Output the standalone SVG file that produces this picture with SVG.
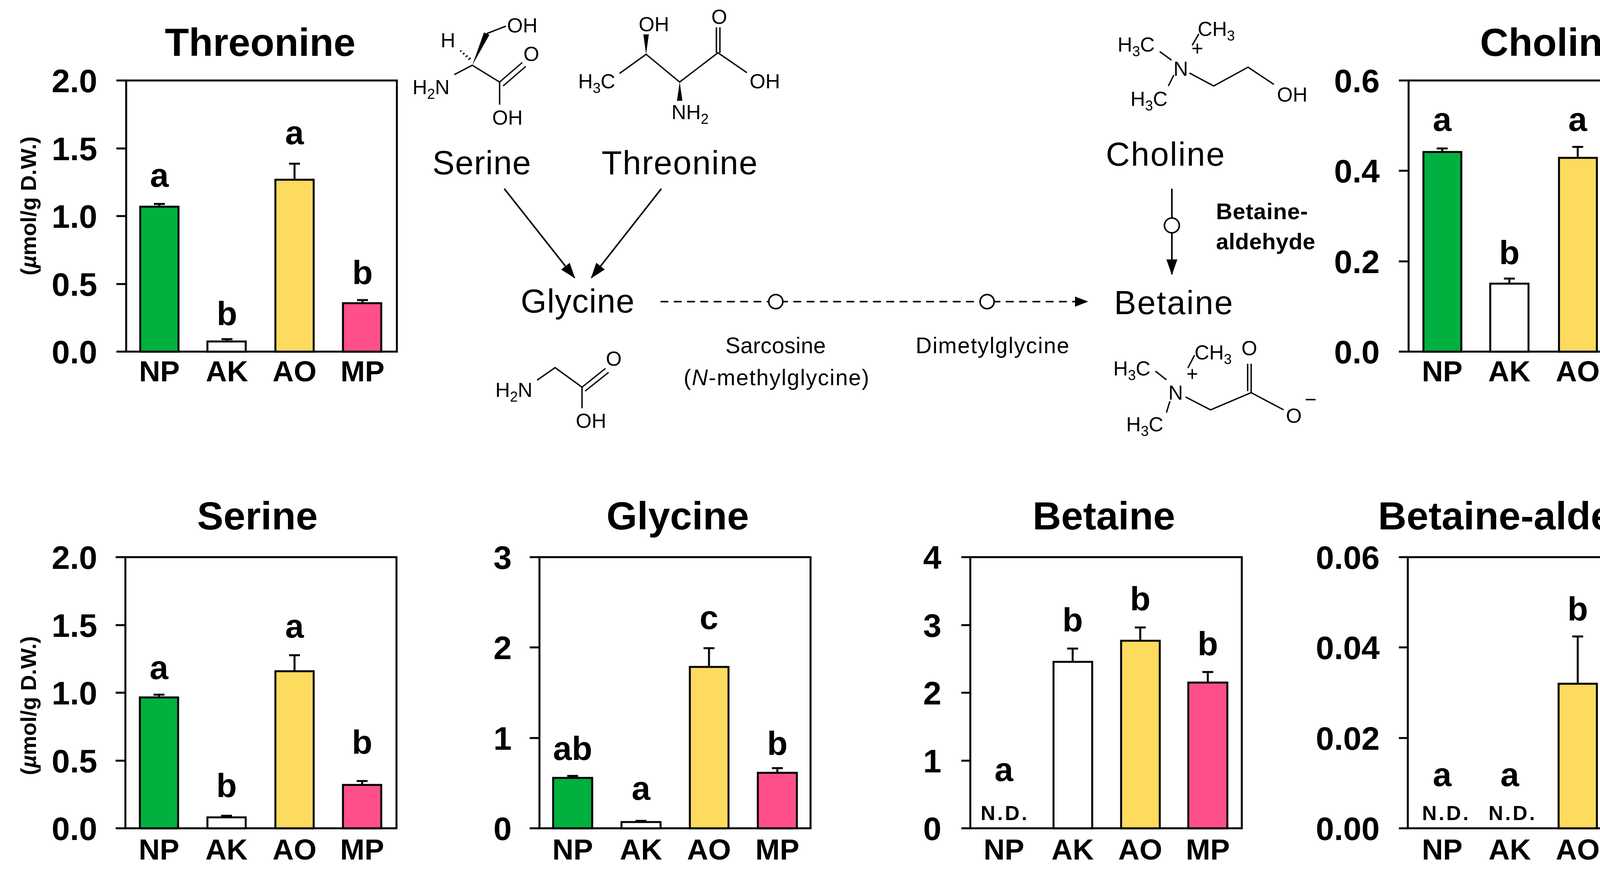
<svg xmlns="http://www.w3.org/2000/svg" width="4404" height="2237" viewBox="0 0 4404 2237">
<style>
.fr{fill:none;stroke:#000;stroke-width:5}
.tk{stroke:#000;stroke-width:5}
.bar{stroke:#000;stroke-width:5}
.g{fill:#00B140}.w{fill:#fff}.y{fill:#FDDB5F}.p{fill:#FF4F8B}
.eb{stroke:#000;stroke-width:5;fill:none}
.tl{font-family:"Liberation Sans",Arial,sans-serif;font-weight:bold;font-size:84px;text-anchor:end}
.ti{font-family:"Liberation Sans",Arial,sans-serif;font-weight:bold;font-size:101px;text-anchor:middle}
.cat{font-family:"Liberation Sans",Arial,sans-serif;font-weight:bold;font-size:75px;text-anchor:middle}
.let{font-family:"Liberation Sans",Arial,sans-serif;font-weight:bold;font-size:86px;text-anchor:middle}
.nd{font-family:"Liberation Sans",Arial,sans-serif;font-weight:bold;font-size:52px;text-anchor:middle}
.yl{font-family:"Liberation Sans",Arial,sans-serif;font-weight:bold;font-size:56px;text-anchor:middle}
.nm{font-family:"Liberation Sans",Arial,sans-serif;font-size:85px}
.sm{font-family:"Liberation Sans",Arial,sans-serif;font-size:57px}
.mo{font-family:"Liberation Sans",Arial,sans-serif;font-size:52px}
.sb{font-size:36px}
.bd{stroke:#000;stroke-width:3.5;fill:none}
.ln{stroke:#000;stroke-width:4;fill:none}
</style>
<defs>
<marker id="ah" markerUnits="userSpaceOnUse" markerWidth="40" markerHeight="28" refX="38" refY="14" orient="auto"><path d="M0,0 L40,14 L0,28 z" fill="#000"/></marker>
</defs>

<!-- Threonine chart -->
<g id="chart-threonine">
<text class="ti" x="666" y="143">Threonine</text>
<text class="yl" transform="translate(92,527) rotate(-90)">(<tspan font-style="italic">µ</tspan>mol/g D.W.)</text>
<rect class="fr" x="323" y="206" width="693" height="694"/>
<path class="tk" d="M298,206H323M298,380H323M298,553H323M298,727H323M298,900H323"/>
<text class="tl" x="249" y="236">2.0</text><text class="tl" x="249" y="410">1.5</text><text class="tl" x="249" y="583">1.0</text><text class="tl" x="249" y="757">0.5</text><text class="tl" x="249" y="930">0.0</text>
<path class="eb" d="M408,529V522M394,522H422M581,874V868M567,868H595M754,460V419M740,419H768M928,776V768M914,768H942"/>
<rect class="bar g" x="359" y="529" width="98" height="371"/>
<rect class="bar w" x="531" y="874" width="98" height="26"/>
<rect class="bar y" x="705" y="460" width="98" height="440"/>
<rect class="bar p" x="878" y="776" width="98" height="124"/>
<text class="let" x="408" y="478">a</text><text class="let" x="581" y="832">b</text><text class="let" x="754" y="369">a</text><text class="let" x="928" y="727">b</text>
<text class="cat" x="408" y="976">NP</text><text class="cat" x="581" y="976">AK</text><text class="cat" x="754" y="976">AO</text><text class="cat" x="928" y="976">MP</text>
</g>

<!-- Choline chart -->
<g id="chart-choline">
<text class="ti" x="3974" y="143">Choline</text>
<rect class="fr" x="3606" y="206" width="694" height="694"/>
<path class="tk" d="M3581,206H3606M3581,437H3606M3581,669H3606M3581,900H3606"/>
<text class="tl" x="3532" y="236">0.6</text><text class="tl" x="3532" y="467">0.4</text><text class="tl" x="3532" y="699">0.2</text><text class="tl" x="3532" y="930">0.0</text>
<path class="eb" d="M3692,389V380M3678,380H3706M3864,726V713M3850,713H3878M4039,404V376M4025,376H4053M4213,349V344M4199,344H4227"/>
<rect class="bar g" x="3644" y="389" width="97" height="511"/>
<rect class="bar w" x="3815" y="726" width="98" height="174"/>
<rect class="bar y" x="3991" y="404" width="97" height="496"/>
<rect class="bar p" x="4165" y="349" width="97" height="551"/>
<text class="let" x="3692" y="335">a</text><text class="let" x="3864" y="676">b</text><text class="let" x="4039" y="335">a</text><text class="let" x="4213" y="300">a</text>
<text class="cat" x="3692" y="976">NP</text><text class="cat" x="3864" y="976">AK</text><text class="cat" x="4039" y="976">AO</text><text class="cat" x="4213" y="976">MP</text>
</g>

<!-- Serine chart -->
<g id="chart-serine">
<text class="ti" x="659" y="1355">Serine</text>
<text class="yl" transform="translate(92,1806) rotate(-90)">(<tspan font-style="italic">µ</tspan>mol/g D.W.)</text>
<rect class="fr" x="321" y="1426" width="694" height="694"/>
<path class="tk" d="M296,1426H321M296,1600H321M296,1773H321M296,1947H321M296,2120H321"/>
<text class="tl" x="249" y="1456">2.0</text><text class="tl" x="249" y="1630">1.5</text><text class="tl" x="249" y="1803">1.0</text><text class="tl" x="249" y="1977">0.5</text><text class="tl" x="249" y="2150">0.0</text>
<path class="eb" d="M407,1785V1778M393,1778H421M580,2092V2088M566,2088H594M754,1718V1677M740,1677H768M927,2009V1999M913,1999H941"/>
<rect class="bar g" x="358" y="1785" width="98" height="335"/>
<rect class="bar w" x="531" y="2092" width="98" height="28"/>
<rect class="bar y" x="705" y="1718" width="98" height="402"/>
<rect class="bar p" x="878" y="2009" width="98" height="111"/>
<text class="let" x="407" y="1738">a</text><text class="let" x="580" y="2040">b</text><text class="let" x="754" y="1632">a</text><text class="let" x="927" y="1929">b</text>
<text class="cat" x="407" y="2200">NP</text><text class="cat" x="580" y="2200">AK</text><text class="cat" x="754" y="2200">AO</text><text class="cat" x="927" y="2200">MP</text>
</g>

<!-- Glycine chart -->
<g id="chart-glycine">
<text class="ti" x="1735" y="1355">Glycine</text>
<rect class="fr" x="1381" y="1426" width="694" height="694"/>
<path class="tk" d="M1356,1426H1381M1356,1657H1381M1356,1889H1381M1356,2120H1381"/>
<text class="tl" x="1310" y="1456">3</text><text class="tl" x="1310" y="1687">2</text><text class="tl" x="1310" y="1919">1</text><text class="tl" x="1310" y="2150">0</text>
<path class="eb" d="M1466,1991V1986M1452,1986H1480M1641,2104V2101M1627,2101H1655M1815,1707V1659M1801,1659H1829M1990,1978V1966M1976,1966H2004"/>
<rect class="bar g" x="1416" y="1991" width="100" height="129"/>
<rect class="bar w" x="1591" y="2104" width="100" height="16"/>
<rect class="bar y" x="1766" y="1707" width="99" height="413"/>
<rect class="bar p" x="1940" y="1978" width="100" height="142"/>
<text class="let" x="1466" y="1945">ab</text><text class="let" x="1641" y="2047">a</text><text class="let" x="1815" y="1610">c</text><text class="let" x="1990" y="1932">b</text>
<text class="cat" x="1466" y="2200">NP</text><text class="cat" x="1641" y="2200">AK</text><text class="cat" x="1815" y="2200">AO</text><text class="cat" x="1990" y="2200">MP</text>
</g>

<!-- Betaine chart -->
<g id="chart-betaine">
<text class="ti" x="2826" y="1355">Betaine</text>
<rect class="fr" x="2484" y="1426" width="695" height="694"/>
<path class="tk" d="M2461,1426H2484M2461,1600H2484M2461,1773H2484M2461,1947H2484M2461,2120H2484"/>
<text class="tl" x="2410" y="1456">4</text><text class="tl" x="2410" y="1630">3</text><text class="tl" x="2410" y="1803">2</text><text class="tl" x="2410" y="1977">1</text><text class="tl" x="2410" y="2150">0</text>
<path class="eb" d="M2746,1694V1660M2732,1660H2760M2919,1640V1606M2905,1606H2933M3092,1747V1720M3078,1720H3106"/>
<rect class="bar w" x="2697" y="1694" width="99" height="426"/>
<rect class="bar y" x="2870" y="1640" width="99" height="480"/>
<rect class="bar p" x="3042" y="1747" width="100" height="373"/>
<text class="let" x="2570" y="1999">a</text><text class="nd" x="2570" y="2099" textLength="119">N.D.</text>
<text class="let" x="2746" y="1616">b</text><text class="let" x="2919" y="1562">b</text><text class="let" x="3092" y="1677">b</text>
<text class="cat" x="2570" y="2200">NP</text><text class="cat" x="2746" y="2200">AK</text><text class="cat" x="2919" y="2200">AO</text><text class="cat" x="3092" y="2200">MP</text>
</g>

<!-- Betaine-aldehyde chart -->
<g id="chart-betaine-aldehyde">
<text class="ti" x="3946" y="1355">Betaine-aldehyde</text>
<rect class="fr" x="3604" y="1426" width="696" height="694"/>
<path class="tk" d="M3581,1426H3604M3581,1657H3604M3581,1889H3604M3581,2120H3604"/>
<text class="tl" x="3532" y="1456">0.06</text><text class="tl" x="3532" y="1687">0.04</text><text class="tl" x="3532" y="1919">0.02</text><text class="tl" x="3532" y="2150">0.00</text>
<path class="eb" d="M4039,1750V1629M4025,1629H4053"/>
<rect class="bar y" x="3990" y="1750" width="98" height="370"/>
<text class="let" x="3692" y="2012">a</text><text class="let" x="3865" y="2012">a</text><text class="let" x="4039" y="1588">b</text><text class="let" x="4213" y="2012">a</text>
<text class="nd" x="3700" y="2099" textLength="119">N.D.</text><text class="nd" x="3870" y="2099" textLength="119">N.D.</text><text class="nd" x="4220" y="2099" textLength="119">N.D.</text>
<text class="cat" x="3692" y="2200">NP</text><text class="cat" x="3865" y="2200">AK</text><text class="cat" x="4039" y="2200">AO</text><text class="cat" x="4213" y="2200">MP</text>
</g>

<!-- Pathway nodes -->
<g id="node-serine">
<text class="mo" x="1298" y="83">OH</text>
<text class="mo" x="1128" y="121">H</text>
<text class="mo" x="1340" y="156">O</text>
<text class="mo" x="1056" y="241">H<tspan class="sb" dy="12">2</tspan><tspan dy="-12">N</tspan></text>
<text class="mo" x="1260" y="319">OH</text>
<path class="bd" d="M1163,191L1209,167L1279,210V268M1279,210L1337,160M1288,220L1346,170M1246,86L1295,67"/>
<polygon points="1209,167 1239,83 1253,89" fill="#000"/>
<path class="bd" stroke-width="3" d="M1199,153l6,-5M1192,146l5,-4M1185,139l4,-3M1178,132l3,-3"/>
<text class="nm" x="1107" y="446" textLength="252">Serine</text>
</g>
<g id="node-threonine">
<text class="mo" x="1635" y="80">OH</text>
<text class="mo" x="1821" y="61">O</text>
<text class="mo" x="1480" y="226">H<tspan class="sb" dy="12">3</tspan><tspan dy="-12">C</tspan></text>
<text class="mo" x="1919" y="226">OH</text>
<text class="mo" x="1719" y="305">NH<tspan class="sb" dy="12">2</tspan></text>
<path class="bd" d="M1586,188L1654,139L1740,210L1838,135L1912,186M1834,135V70M1843,135V70"/>
<polygon points="1654,139 1647,88 1661,88" fill="#000"/>
<polygon points="1740,210 1733,258 1747,258" fill="#000"/>
<text class="nm" x="1540" y="446" textLength="399">Threonine</text>
</g>
<g id="node-glycine">
<text class="nm" x="1333" y="800" textLength="291">Glycine</text>
<text class="mo" x="1268" y="1016">H<tspan class="sb" dy="12">2</tspan><tspan dy="-12">N</tspan></text>
<text class="mo" x="1551" y="936">O</text>
<text class="mo" x="1474" y="1095">OH</text>
<path class="bd" d="M1375,973L1421,941L1490,991V1045M1490,991L1550,943M1498,1001L1558,953"/>
</g>
<g id="node-choline">
<text class="mo" x="3066" y="92">CH<tspan class="sb" dy="12">3</tspan></text>
<text class="mo" x="2861" y="132">H<tspan class="sb" dy="12">3</tspan><tspan dy="-12">C</tspan></text>
<text class="mo" x="3004" y="194">N</text>
<text class="mo" font-size="36" x="3050" y="142">+</text>
<text class="mo" x="2894" y="271">H<tspan class="sb" dy="12">3</tspan><tspan dy="-12">C</tspan></text>
<text class="mo" x="3269" y="260">OH</text>
<path class="bd" d="M2969,132L2999,154M3052,116L3069,87M3005,192L2991,220M3045,187L3107,220L3195,172L3261,216"/>
<text class="nm" x="2831" y="424" textLength="304">Choline</text>
</g>
<g id="node-betaine">
<text class="nm" x="2852" y="804" textLength="304">Betaine</text>
<text class="mo" x="3058" y="920">CH<tspan class="sb" dy="12">3</tspan></text>
<text class="mo" x="3178" y="909">O</text>
<text class="mo" x="2850" y="961">H<tspan class="sb" dy="12">3</tspan><tspan dy="-12">C</tspan></text>
<text class="mo" font-size="36" x="3037" y="975">+</text>
<text class="mo" x="2991" y="1023">N</text>
<text class="mo" x="2883" y="1104">H<tspan class="sb" dy="12">3</tspan><tspan dy="-12">C</tspan></text>
<text class="mo" x="3292" y="1082">O</text>
<text class="mo" font-size="36" x="3340" y="1040">−</text>
<path class="bd" d="M2958,950L2986,972M3041,942L3058,909M2995,1027L2986,1056M3035,1016L3099,1049L3203,1005L3286,1049M3203,1005V931M3194,1001V931"/>
</g>
<g id="node-intermediates">
<text class="sm" x="1857" y="904" textLength="257">Sarcosine</text>
<text class="sm" x="1750" y="986" textLength="475">(<tspan font-style="italic">N</tspan>-methylglycine)</text>
<text class="sm" x="2344" y="904" textLength="393">Dimetylglycine</text>
<text x="3113" y="561" font-family="Liberation Sans, Arial, sans-serif" font-weight="bold" font-size="58" textLength="235">Betaine-</text>
<text x="3113" y="638" font-family="Liberation Sans, Arial, sans-serif" font-weight="bold" font-size="58" textLength="254">aldehyde</text>
</g>

<!-- Connectors -->
<g id="connectors">
<line class="ln" x1="1291" y1="483" x2="1471" y2="711" marker-end="url(#ah)"/>
<line class="ln" x1="1693" y1="483" x2="1514" y2="711" marker-end="url(#ah)"/>
<line class="ln" x1="1691" y1="772" x2="2756" y2="772" stroke-dasharray="20 14"/>
<polygon points="2786,772 2752,759 2752,785" fill="#000"/>
<circle cx="1986" cy="772" r="18" fill="#fff" stroke="#000" stroke-width="4"/>
<circle cx="2527" cy="772" r="18" fill="#fff" stroke="#000" stroke-width="4"/>
<line class="ln" x1="3000" y1="483" x2="3000" y2="702" marker-end="url(#ah)"/>
<circle cx="3000" cy="577" r="19" fill="#fff" stroke="#000" stroke-width="4"/>
</g>
</svg>
